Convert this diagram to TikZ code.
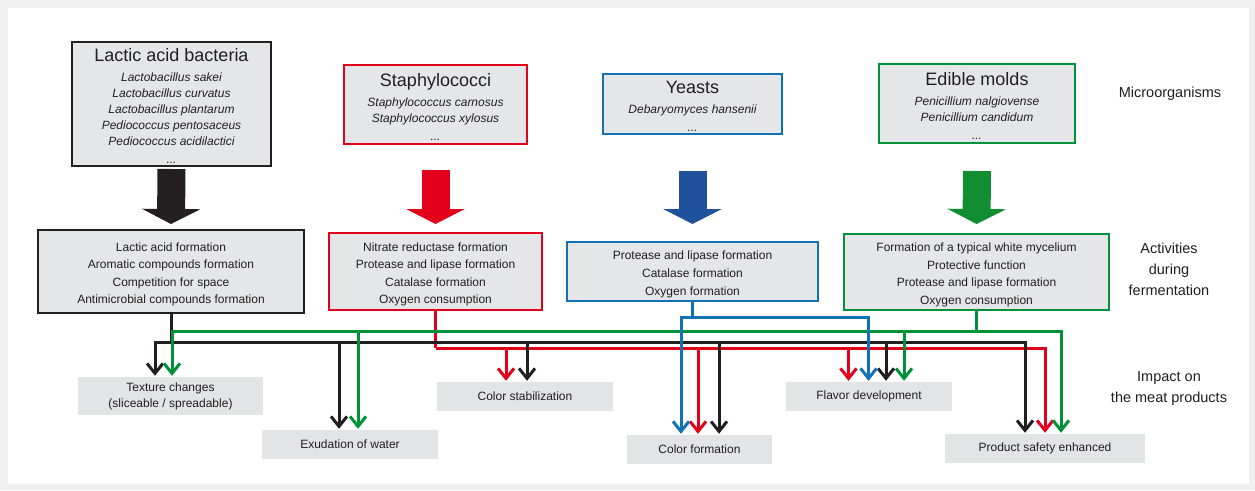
\documentclass[tikz,border=0pt]{standalone}
\usepackage{fontspec}
\setmainfont{Liberation Sans}
\usetikzlibrary{positioning, arrows.meta}

\definecolor{labblack}{HTML}{231F20}
\definecolor{staphred}{HTML}{E2001A}
\definecolor{yeastblue}{HTML}{1272B8}
\definecolor{yeastdark}{HTML}{1F509B}
\definecolor{moldgreen}{HTML}{009239}
\definecolor{molddark}{HTML}{128E32}
\definecolor{boxgray}{HTML}{E5E6E7}
\definecolor{impactgray}{HTML}{E3E4E5}
\definecolor{framegray}{HTML}{F0F0F0}

\tikzset{
	orgbox/.style={draw=#1, fill=boxgray, line width=2pt, align=center, inner sep=0pt, text=labblack, font=\fontsize{12}{16}\selectfont\itshape},
	actbox/.style={draw=#1, fill=boxgray, line width=2pt, align=center, inner sep=0pt, text=labblack, font=\fontsize{12}{17.6}\selectfont},
	impact/.style={fill=impactgray, align=center, inner sep=0pt, text=labblack, font=\fontsize{12}{16}\selectfont},
	sidelabel/.style={align=center, text=labblack, font=\fontsize{14.5}{21}\selectfont},
	fat/.style={line width=28pt, -{Triangle[length=15pt,width=58pt]}},
	link/.style={line width=3pt, -{Straight Barb[length=10pt,width=16pt]}, shorten >=1pt},
	bus/.style={line width=3pt},
}
\newcommand{\orgname}[1]{{\fontsize{18}{20}\selectfont\upshape\rule{0pt}{17pt}#1}}
\newcommand{\actfirst}{\rule{0pt}{14.5pt}}

\begin{document}
\begin{tikzpicture}[x=1pt, y=-1pt]
	\useasboundingbox (0,0) rectangle (1255,490);
	\fill[framegray] (0,0) rectangle (1255,490);
	\fill[white] (8,8) rectangle (1249,484);
	
	% microorganisms
	\node[orgbox=labblack, minimum width=199pt, minimum height=124pt] (lab) at (171.5,104) {\orgname{Lactic acid bacteria}\\[4pt] Lactobacillus sakei\\ Lactobacillus curvatus\\ Lactobacillus plantarum\\ Pediococcus pentosaceus\\ Pediococcus acidilactici\\[2pt] ...};
	\node[orgbox=staphred, minimum width=183pt, minimum height=79pt] (staph) at (435.5,104.5) {\orgname{Staphylococci}\\[4pt] Staphylococcus carnosus\\ Staphylococcus xylosus\\[2pt] ...};
	\node[orgbox=yeastblue, minimum width=179pt, minimum height=60pt] (yeast) at (692.5,104) {\orgname{Yeasts}\\[4pt] Debaryomyces hansenii\\[2pt] ...};
	\node[orgbox=moldgreen, minimum width=196pt, minimum height=79pt] (mold) at (977,103.5) {\orgname{Edible molds}\\[4pt] Penicillium nalgiovense\\ Penicillium candidum\\[2pt] ...};
	
	% activities
	\node[actbox=labblack, minimum width=266pt, minimum height=83pt] (labact) at (171,271.5) {\actfirst Lactic acid formation\\ Aromatic compounds formation\\ Competition for space\\ Antimicrobial compounds formation};
	\node[actbox=staphred, minimum width=213pt, minimum height=77pt] (staphact) at (435.5,271.5) {\actfirst Nitrate reductase formation\\ Protease and lipase formation\\ Catalase formation\\ Oxygen consumption};
	\node[actbox=yeastblue, minimum width=251pt, minimum height=59pt] (yeastact) at (692.5,271.5) {\actfirst Protease and lipase formation\\ Catalase formation\\ Oxygen formation};
	\node[actbox=moldgreen, minimum width=265pt, minimum height=76pt] (moldact) at (976.5,272) {\actfirst Formation of a typical white mycelium\\ Protective function\\ Protease and lipase formation\\ Oxygen consumption};
	
	% impact on the meat products
	\node[impact, minimum width=185pt, minimum height=38pt] (texture) at (170.5,396) {Texture changes\\(sliceable / spreadable)};
	\node[impact, minimum width=176pt, minimum height=29pt] (exudation) at (350,444.5) {Exudation of water};
	\node[impact, minimum width=176pt, minimum height=29pt] (colorstab) at (525,396.5) {Color stabilization};
	\node[impact, minimum width=145pt, minimum height=29pt] (colorform) at (699.5,449.5) {Color formation};
	\node[impact, minimum width=166pt, minimum height=29pt] (flavor) at (869,396.5) {Flavor development};
	\node[impact, minimum width=200pt, minimum height=29pt] (safety) at (1045,448.5) {Product safety enhanced};
	
	% row labels
	\node[sidelabel] (micro) at (1170,93.5) {Microorganisms};
	\node[sidelabel] (activ) at (1169,269) {Activities\\during\\fermentation};
	\node[sidelabel] (impactlbl) at (1169,389) {Impact on\\the meat products};
	
	% fat arrows
	\draw[fat, labblack] (lab.south |- 0,169) -- (labact.north |- 0,224);
	\draw[fat, staphred] (staph.south |- 0,170) -- (staphact.north |- 0,224);
	\draw[fat, yeastdark] (yeast.south |- 0,171) -- (yeastact.north |- 0,224);
	\draw[fat, molddark] (mold.south |- 0,171) -- (moldact.north |- 0,224);
	
	% buses
	\coordinate (busR) at (staphact.south |- 0,348);
	\coordinate (busK) at (labact.south |- 0,342);
	\coordinate (busG) at (moldact.south |- 0,331.5);
	\coordinate (busB) at (yeastact.south |- 0,317);
	
	% red
	\draw[bus, staphred] (staphact.south) -- (busR);
	\draw[link, staphred] (busR) -| ([xshift=-19pt]colorstab.north);
	\draw[link, staphred] (busR) -| ([xshift=-1.5pt]colorform.north);
	\draw[link, staphred] (busR) -| ([xshift=-20.5pt]flavor.north);
	\draw[link, staphred] (busR) -| (safety.north);
	
	% black
	\draw[bus, labblack] (labact.south) -- (busK);
	\draw[link, labblack] (busK) -| ([xshift=-15.5pt]texture.north);
	\draw[link, labblack] (busK) -| ([xshift=-11pt]exudation.north);
	\draw[link, labblack] (busK) -| ([xshift=2pt]colorstab.north);
	\draw[link, labblack] (busK) -| ([xshift=19.5pt]colorform.north);
	\draw[link, labblack] (busK) -| ([xshift=17pt]flavor.north);
	\draw[link, labblack] (busK) -| ([xshift=-20pt]safety.north);
	
	% green
	\draw[bus, moldgreen] (moldact.south) -- (busG);
	\draw[link, moldgreen] (busG) -| ([xshift=1.5pt]texture.north);
	\draw[link, moldgreen] (busG) -| ([xshift=8pt]exudation.north);
	\draw[link, moldgreen] (busG) -| ([xshift=35pt]flavor.north);
	\draw[link, moldgreen] (busG) -| ([xshift=16pt]safety.north);
	
	% blue
	\draw[bus, yeastblue] (yeastact.south) -- (busB);
	\draw[link, yeastblue] (busB) -| ([xshift=-18.5pt]colorform.north);
	\draw[link, yeastblue] (busB) -| ([xshift=-0.5pt]flavor.north);
	
\end{tikzpicture}
\end{document}
